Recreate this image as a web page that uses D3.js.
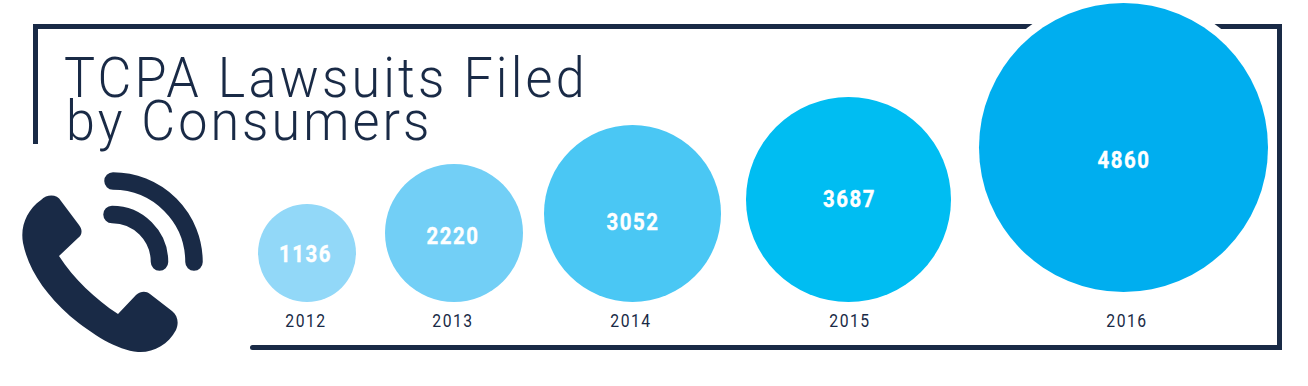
<!DOCTYPE html>
<html><head><meta charset="utf-8">
<script src="https://cdn.jsdelivr.net/npm/d3@7"></script>
<style>html,body{margin:0;padding:0;background:#fff}svg{display:block}</style>
</head><body><div id="c"></div>
<script>
const years = ["2012","2013","2014","2015","2016"];
const lawsuits = [1136,2220,3052,3687,4860];
const bubbleColors = ["#92d8f8","#72cff6","#4ac7f4","#00bdf2","#00aeef"];
const titleLines = ["TCPA Lawsuits Filed","by Consumers"];
const navy = "#192a46";
const W=1308,H=386;
const svg=d3.select("#c").append("svg").attr("width",W).attr("height",H);
const x=d3.scaleOrdinal().domain(years).range([307,454,632.5,848.5,1123.5]);
const r=d3.scaleLinear().domain(lawsuits).range([49,69,88.5,102.5,144.5]);
const baseline=d3.scaleOrdinal().domain(years).range([302,302,302,302,292]);
const labelX=d3.scaleOrdinal().domain(years).range([305.5,453,633,849.5,1124]);
const labelY=d3.scaleOrdinal().domain(years).range([253.5,235.5,221,198.5,159.3]);
const yearX=d3.scaleOrdinal().domain(years).range([306,453,631,850,1127]);
const color=d3.scaleOrdinal().domain(years).range(bubbleColors);
const data=years.map((y,i)=>({year:y,value:lawsuits[i]}));
// frame
svg.append("path").attr("fill","none").attr("stroke",navy).attr("stroke-width",5)
 .attr("d","M35.5,144V26.5H1279.5V347.5H252.5");
svg.append("circle").attr("cx",252.5).attr("cy",347.5).attr("r",2.5).attr("fill",navy);
// bubbles
svg.selectAll("circle.halo").data(data.slice(-1)).join("circle").attr("class","halo")
 .attr("cx",d=>x(d.year)).attr("cy",d=>baseline(d.year)-r(d.value)).attr("r",d=>r(d.value)+9).attr("fill","#fff");
svg.selectAll("circle.b").data(data).join("circle").attr("class","b")
 .attr("cx",d=>x(d.year)).attr("cy",d=>baseline(d.year)-r(d.value)).attr("r",d=>r(d.value)).attr("fill",d=>color(d.year));
const font="Roboto, sans-serif";
svg.selectAll("text.v").data(data).join("text").attr("class","v")
 .attr("transform",d=>`translate(${labelX(d.year)},${labelY(d.year)}) scale(0.85,1)`)
 .attr("dy","0.36em").attr("text-anchor","middle")
 .attr("font-family",font).attr("font-weight",700).attr("font-size",24).attr("letter-spacing",1.8)
 .attr("stroke","#fff").attr("stroke-width",0.4)
 .attr("fill","#fff").text(d=>d.value);
svg.selectAll("text.y").data(data).join("text").attr("class","y")
 .attr("transform",d=>`translate(${yearX(d.year)},327) scale(0.85,1)`).attr("text-anchor","middle")
 .attr("font-family",font).attr("font-size",18.5).attr("letter-spacing",1.8).attr("fill",navy).text(d=>d.year);
svg.selectAll("text.t").data(titleLines).join("text").attr("class","t")
 .attr("transform",(d,i)=>`translate(${i?66:64},${i?140:97}) scale(0.93,1)`)
 .attr("font-family",font).attr("font-weight",300).attr("font-size",56).attr("letter-spacing",(d,i)=>i?3.3:3.4)
 .attr("fill",navy).text(d=>d);
// phone icon
const icon=svg.append("g");
icon.append("path").attr("fill",navy).attr("d","M41,200C47,194 57,194 61,201L79,225C83,230 82,235 78,238L59,256C74,279 95,299 118,314L136,295C141,291 146,291 150,294L172,311C178,316 179,323 176,330C168,345 153,353 138,352C117,350 93,335 70,316C44,293 28,268 23,243C20,226 27,210 41,200Z");
[[113,262,81],[112,262,47.5]].forEach(([cx,cy,rad])=>{
 icon.append("path").attr("fill","none").attr("stroke",navy).attr("stroke-width",17.5).attr("stroke-linecap","round")
  .attr("d",`M${cx},${cy-rad}A${rad},${rad} 0 0 1 ${cx+rad},${cy}`);
});
</script></body></html>
